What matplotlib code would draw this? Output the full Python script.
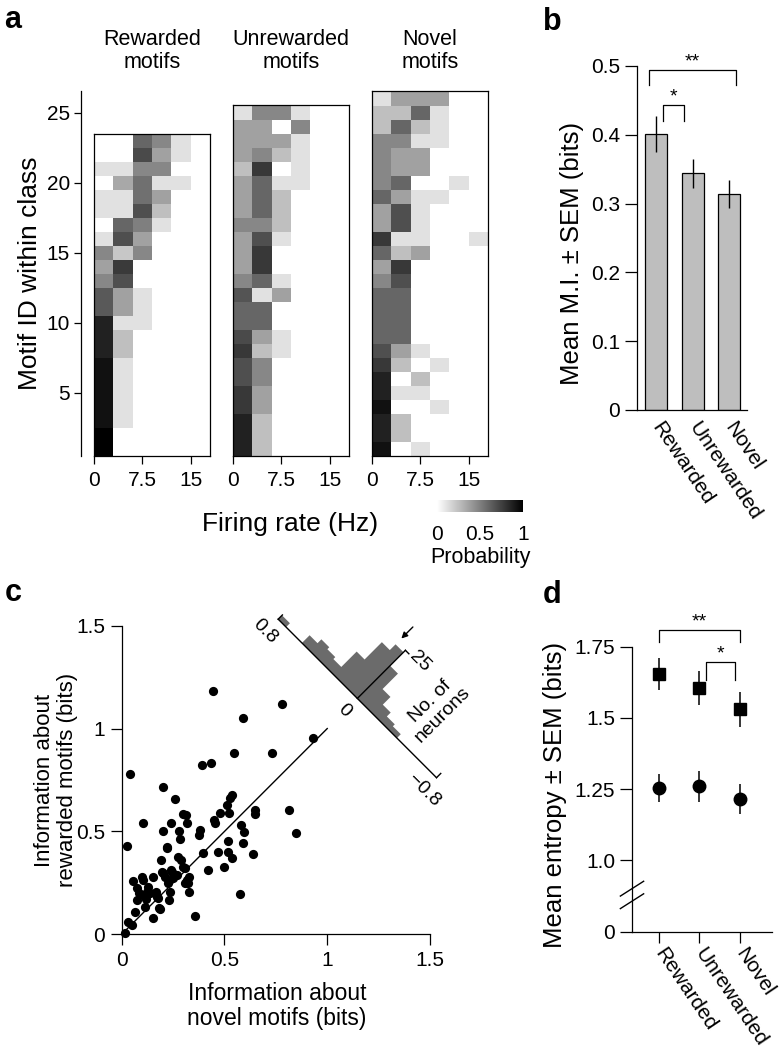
import numpy as np
import matplotlib
matplotlib.use("Agg")
import matplotlib.pyplot as plt
from matplotlib.transforms import Affine2D
from matplotlib.colors import Normalize
from matplotlib.cm import ScalarMappable

plt.rcParams["font.family"] = ["Liberation Sans", "DejaVu Sans"]
plt.rcParams["axes.linewidth"] = 0.9
plt.rcParams["xtick.major.width"] = 0.9
plt.rcParams["ytick.major.width"] = 0.9

# ---------------- data ----------------
rate_edges = [0, 3, 6, 9, 12, 15, 18]
rate_ticks = [0, 7.5, 15]
rate_ticklabels = ["0", "7.5", "15"]
motif_ticks = [5, 10, 15, 20, 25]

# probability rows, listed from the highest motif ID (top) down to motif 1
rewarded_prob = [
    [0.00, 0.00, 0.60, 0.47, 0.12, 0.00],
    [0.00, 0.00, 0.71, 0.37, 0.12, 0.00],
    [0.12, 0.12, 0.47, 0.47, 0.00, 0.00],
    [0.00, 0.34, 0.56, 0.12, 0.12, 0.00],
    [0.12, 0.12, 0.56, 0.37, 0.00, 0.00],
    [0.12, 0.12, 0.69, 0.25, 0.00, 0.00],
    [0.00, 0.60, 0.50, 0.12, 0.00, 0.00],
    [0.12, 0.69, 0.37, 0.00, 0.00, 0.00],
    [0.47, 0.22, 0.47, 0.00, 0.00, 0.00],
    [0.37, 0.77, 0.00, 0.00, 0.00, 0.00],
    [0.47, 0.69, 0.00, 0.00, 0.00, 0.00],
    [0.65, 0.37, 0.12, 0.00, 0.00, 0.00],
    [0.65, 0.37, 0.12, 0.00, 0.00, 0.00],
    [0.87, 0.12, 0.12, 0.00, 0.00, 0.00],
    [0.87, 0.25, 0.00, 0.00, 0.00, 0.00],
    [0.87, 0.25, 0.00, 0.00, 0.00, 0.00],
    [0.93, 0.12, 0.00, 0.00, 0.00, 0.00],
    [0.93, 0.12, 0.00, 0.00, 0.00, 0.00],
    [0.93, 0.12, 0.00, 0.00, 0.00, 0.00],
    [0.93, 0.12, 0.00, 0.00, 0.00, 0.00],
    [0.93, 0.12, 0.00, 0.00, 0.00, 0.00],
    [1.00, 0.00, 0.00, 0.00, 0.00, 0.00],
    [1.00, 0.00, 0.00, 0.00, 0.00, 0.00],
]
unrewarded_prob = [
    [0.12, 0.47, 0.47, 0.12, 0.00, 0.00],
    [0.37, 0.37, 0.00, 0.47, 0.00, 0.00],
    [0.37, 0.37, 0.37, 0.12, 0.00, 0.00],
    [0.37, 0.47, 0.25, 0.12, 0.00, 0.00],
    [0.25, 0.78, 0.00, 0.12, 0.00, 0.00],
    [0.37, 0.60, 0.12, 0.12, 0.00, 0.00],
    [0.37, 0.60, 0.25, 0.00, 0.00, 0.00],
    [0.37, 0.60, 0.25, 0.00, 0.00, 0.00],
    [0.47, 0.47, 0.25, 0.00, 0.00, 0.00],
    [0.37, 0.69, 0.12, 0.00, 0.00, 0.00],
    [0.37, 0.78, 0.00, 0.00, 0.00, 0.00],
    [0.37, 0.78, 0.00, 0.00, 0.00, 0.00],
    [0.47, 0.60, 0.12, 0.00, 0.00, 0.00],
    [0.67, 0.12, 0.37, 0.00, 0.00, 0.00],
    [0.60, 0.60, 0.00, 0.00, 0.00, 0.00],
    [0.60, 0.60, 0.00, 0.00, 0.00, 0.00],
    [0.71, 0.37, 0.12, 0.00, 0.00, 0.00],
    [0.78, 0.25, 0.12, 0.00, 0.00, 0.00],
    [0.69, 0.47, 0.00, 0.00, 0.00, 0.00],
    [0.69, 0.47, 0.00, 0.00, 0.00, 0.00],
    [0.78, 0.37, 0.00, 0.00, 0.00, 0.00],
    [0.78, 0.37, 0.00, 0.00, 0.00, 0.00],
    [0.87, 0.25, 0.00, 0.00, 0.00, 0.00],
    [0.87, 0.25, 0.00, 0.00, 0.00, 0.00],
    [0.87, 0.25, 0.00, 0.00, 0.00, 0.00],
]
novel_prob = [
    [0.12, 0.37, 0.37, 0.37, 0.00, 0.00],
    [0.25, 0.25, 0.60, 0.12, 0.00, 0.00],
    [0.25, 0.60, 0.25, 0.12, 0.00, 0.00],
    [0.47, 0.47, 0.12, 0.12, 0.00, 0.00],
    [0.47, 0.37, 0.37, 0.00, 0.00, 0.00],
    [0.47, 0.37, 0.37, 0.00, 0.00, 0.00],
    [0.47, 0.60, 0.00, 0.00, 0.12, 0.00],
    [0.60, 0.37, 0.12, 0.12, 0.00, 0.00],
    [0.37, 0.69, 0.12, 0.00, 0.00, 0.00],
    [0.37, 0.69, 0.12, 0.00, 0.00, 0.00],
    [0.78, 0.12, 0.12, 0.00, 0.00, 0.12],
    [0.60, 0.25, 0.37, 0.00, 0.00, 0.00],
    [0.37, 0.78, 0.00, 0.00, 0.00, 0.00],
    [0.47, 0.69, 0.00, 0.00, 0.00, 0.00],
    [0.60, 0.60, 0.00, 0.00, 0.00, 0.00],
    [0.60, 0.60, 0.00, 0.00, 0.00, 0.00],
    [0.60, 0.60, 0.00, 0.00, 0.00, 0.00],
    [0.60, 0.60, 0.00, 0.00, 0.00, 0.00],
    [0.69, 0.37, 0.12, 0.00, 0.00, 0.00],
    [0.78, 0.25, 0.00, 0.12, 0.00, 0.00],
    [0.87, 0.00, 0.25, 0.00, 0.00, 0.00],
    [0.87, 0.12, 0.12, 0.00, 0.00, 0.00],
    [0.93, 0.00, 0.00, 0.12, 0.00, 0.00],
    [0.87, 0.25, 0.00, 0.00, 0.00, 0.00],
    [0.87, 0.25, 0.00, 0.00, 0.00, 0.00],
    [0.93, 0.00, 0.12, 0.00, 0.00, 0.00],
]
heatmap_titles = ["Rewarded\nmotifs", "Unrewarded\nmotifs", "Novel\nmotifs"]

class_names = ["Rewarded", "Unrewarded", "Novel"]
mi_mean = [0.401, 0.344, 0.314]
mi_sem = [0.026, 0.021, 0.021]

novel_info = [
    0.016, 0.040, 0.027, 0.032, 0.049, 0.065, 0.053, 0.097, 0.076, 0.073,
    0.102, 0.086, 0.105, 0.122, 0.130, 0.113, 0.118, 0.154, 0.151, 0.167,
    0.170, 0.183, 0.190, 0.195, 0.203, 0.203, 0.211, 0.219, 0.227, 0.232,
    0.238, 0.240, 0.235, 0.251, 0.259, 0.268, 0.276, 0.280, 0.284, 0.287,
    0.297, 0.313, 0.308, 0.316, 0.319, 0.329, 0.328, 0.357, 0.381, 0.378,
    0.397, 0.421, 0.389, 0.433,
    0.446, 0.449, 0.454, 0.470, 0.478, 0.498, 0.511, 0.516, 0.519, 0.524,
    0.527, 0.535, 0.535, 0.546, 0.576, 0.579, 0.592, 0.592, 0.595, 0.637,
    0.649, 0.649, 0.730, 0.778, 0.816, 0.848, 0.932,
    0.105, 0.138, 0.186, 0.200, 0.222, 0.300, 0.308, 0.324, 0.243, 0.178,
]
rewarded_info = [
    0.005, 0.780, 0.429, 0.061, 0.045, 0.110, 0.260, 0.277, 0.224, 0.167,
    0.540, 0.199, 0.191, 0.207, 0.231, 0.134, 0.170, 0.277, 0.078, 0.207,
    0.183, 0.126, 0.361, 0.304, 0.718, 0.504, 0.280, 0.418, 0.248, 0.167,
    0.313, 0.540, 0.207, 0.272, 0.656, 0.288, 0.377, 0.504, 0.462, 0.361,
    0.585, 0.580, 0.321, 0.540, 0.264, 0.277, 0.207, 0.089, 0.507, 0.483,
    0.394, 0.313, 0.823, 0.834,
    1.183, 0.556, 0.539, 0.402, 0.588, 0.326, 0.629, 0.454, 0.402, 0.591,
    0.661, 0.373, 0.677, 0.880, 0.196, 0.531, 0.442, 1.050, 0.499, 0.390,
    0.604, 0.583, 0.880, 1.118, 0.604, 0.491, 0.953,
    0.264, 0.200, 0.123, 0.296, 0.423, 0.329, 0.248, 0.250, 0.305, 0.175,
]
diff_edges = [-0.40, -0.32, -0.24, -0.16, -0.08, 0.00, 0.08, 0.16, 0.24,
              0.32, 0.40, 0.48, 0.56, 0.64, 0.72, 0.80]
diff_counts = [2, 3, 5, 9, 17, 24, 21, 12, 4, 5, 6, 4, 0, 0, 2]
diff_mean = 0.08

entropy_sq = [1.654, 1.605, 1.531]
entropy_sq_sem = [0.055, 0.060, 0.061]
entropy_circ = [1.254, 1.260, 1.216]
entropy_circ_sem = [0.049, 0.055, 0.054]

# ---------------- figure ----------------
W, H = 780.0, 1050.0
fig = plt.figure(figsize=(7.8, 10.5), dpi=100)


def add_px_axes(x0, y0, x1, y1):
    return fig.add_axes([x0 / W, 1 - y1 / H, (x1 - x0) / W, (y1 - y0) / H])


def ftext(x, y, s, **kw):
    return fig.text(x / W, 1 - y / H, s, **kw)


TICK = 15
LAB = 18.5

# panel letters
for letter, (x, y) in zip("abcd", [(13, 20), (552, 22), (13, 593), (552, 595)]):
    ftext(x, y, letter, fontsize=22, fontweight="bold", ha="center", va="center")

# ---------------- panel a ----------------
row_px = 14.02
base_y = 456
hm_lefts = [94, 233, 372]
hm_width = 116

ax_y = add_px_axes(81, base_y - 26 * row_px, 90, base_y)
ax_y.set_ylim(0.5, 26.5)
ax_y.set_xlim(0, 1)
for s in ["top", "right", "bottom"]:
    ax_y.spines[s].set_visible(False)
ax_y.set_xticks([])
ax_y.set_yticks(motif_ticks)
ax_y.tick_params(axis="y", length=5, labelsize=TICK, pad=3)
ax_y.patch.set_visible(False)

for data, left, title in zip([rewarded_prob, unrewarded_prob, novel_prob],
                             hm_lefts, heatmap_titles):
    arr = np.array(data)[::-1]
    n = arr.shape[0]
    ax = add_px_axes(left, base_y - n * row_px, left + hm_width, base_y)
    ax.pcolormesh(rate_edges, np.arange(n + 1) + 0.5, arr, cmap="gray_r",
                  vmin=0, vmax=1)
    ax.set_xlim(rate_edges[0], rate_edges[-1])
    ax.set_ylim(0.5, n + 0.5)
    ax.set_yticks([])
    ax.set_xticks(rate_ticks)
    ax.set_xticklabels(rate_ticklabels)
    ax.tick_params(axis="x", length=6, labelsize=TICK, pad=5)
    ftext(left + hm_width / 2, 51, title, ha="center", va="center",
          fontsize=15.5, linespacing=1.15)

ftext(30, 273, "Motif ID within class", rotation=90, ha="center",
      va="center", fontsize=19)
ftext(290, 524, "Firing rate (Hz)", ha="center", va="center", fontsize=19)

cax = add_px_axes(437, 500, 523, 512)
cb = fig.colorbar(ScalarMappable(norm=Normalize(0, 1), cmap="gray_r"),
                  cax=cax, orientation="horizontal")
cb.outline.set_visible(False)
cb.set_ticks([0, 0.5, 1])
cb.set_ticklabels(["0", "0.5", "1"])
cax.tick_params(length=0, labelsize=15, pad=9)
ftext(480, 557, "Probability", ha="center", va="center", fontsize=15.5)

# ---------------- panel b ----------------
ax_b = add_px_axes(637, 66, 747, 410)
xb = np.arange(len(class_names))
ax_b.bar(xb, mi_mean, width=0.6, color="#bebebe", edgecolor="black",
         linewidth=0.9, zorder=2)
ax_b.errorbar(xb, mi_mean, yerr=mi_sem, fmt="none", ecolor="black",
              elinewidth=1.0, capsize=0, zorder=3)
ax_b.set_xlim(-0.52, 2.49)
ax_b.set_ylim(0, 0.5)
ax_b.set_yticks([0, 0.1, 0.2, 0.3, 0.4, 0.5])
ax_b.set_yticklabels(["0", "0.1", "0.2", "0.3", "0.4", "0.5"])
ax_b.spines["top"].set_visible(False)
ax_b.spines["right"].set_visible(False)
ax_b.tick_params(axis="y", length=9, labelsize=TICK, pad=3)
ax_b.set_xticks(xb)
ax_b.set_xticklabels(class_names, rotation=-56, ha="left", va="center",
                     rotation_mode="anchor")
ax_b.tick_params(axis="x", length=0, labelsize=TICK, pad=10)
ax_b.plot([-0.2, -0.2, 2.2, 2.2], [0.472, 0.494, 0.494, 0.472], color="k",
          lw=0.9, clip_on=False)
ax_b.text(1.0, 0.494, "**", ha="center", va="bottom", fontsize=14)
ax_b.plot([0.18, 0.18, 0.77, 0.77], [0.42, 0.443, 0.443, 0.42], color="k",
          lw=0.9, clip_on=False)
ax_b.text(0.475, 0.443, "*", ha="center", va="bottom", fontsize=14)
ftext(572, 253, "Mean M.I. ± SEM (bits)", rotation=90, ha="center",
      va="center", fontsize=LAB)

# ---------------- panel c ----------------
ax_c = add_px_axes(121.7, 625.7, 430, 934.3)
ax_c.scatter(novel_info, rewarded_info, s=44, color="black", zorder=3,
             clip_on=False, linewidths=0)
ax_c.plot([0, 1], [0, 1], color="black", lw=1.0, zorder=2)
ax_c.set_xlim(0, 1.5)
ax_c.set_ylim(0, 1.5)
ax_c.set_xticks([0, 0.5, 1, 1.5])
ax_c.set_xticklabels(["0", "0.5", "1", "1.5"])
ax_c.set_yticks([0, 0.5, 1, 1.5])
ax_c.set_yticklabels(["0", "0.5", "1", "1.5"])
ax_c.spines["top"].set_visible(False)
ax_c.spines["right"].set_visible(False)
ax_c.tick_params(length=8, labelsize=TICK, pad=4)
ftext(56, 780, "Information about\nrewarded motifs (bits)", rotation=90,
      ha="center", va="center", fontsize=16, linespacing=1.15)
ftext(277, 1006, "Information about\nnovel motifs (bits)", ha="center",
      va="center", fontsize=16.5, linespacing=1.15)

# rotated histogram of (rewarded - novel) along the anti-diagonal
cval = 1.1465
s_d = 140.0 / 205.6      # data units per bit along the anti-diagonal
s_c = 2.72 / 205.6       # data units per neuron along the diagonal
a = 1 / np.sqrt(2)
T = Affine2D(np.array([[-a * s_d, a * s_c, cval],
                       [a * s_d, a * s_c, cval],
                       [0, 0, 1]])) + ax_c.transData
ax_c.stairs(diff_counts, diff_edges, fill=True, color="#6b6b6b",
            transform=T, clip_on=False, zorder=2)
ax_c.plot([-0.8, 0.8], [0, 0], color="k", lw=1.0, transform=T, clip_on=False)
ax_c.plot([0, 0], [0, 25], color="k", lw=1.0, transform=T, clip_on=False)
for dend in (-0.8, 0.8):
    ax_c.plot([dend, dend], [0, 2.2], color="k", lw=1.0, transform=T,
              clip_on=False)
ax_c.plot([0, -0.035], [25, 25], color="k", lw=1.0, transform=T,
          clip_on=False)
ax_c.annotate("", xy=(diff_mean, 27), xytext=(diff_mean, 33), xycoords=T,
              textcoords=T,
              arrowprops=dict(arrowstyle="-|>", color="k", lw=1.0,
                              mutation_scale=9, shrinkA=0, shrinkB=0))
for d, h, s in [(0.8, -6.6, "0.8"), (0.0, -6.6, "0"), (-0.8, -6.6, "\u22120.8"),
                (-0.13, 25.8, "25")]:
    ax_c.text(d, h, s, transform=T, rotation=-45, ha="center", va="center",
              rotation_mode="anchor", fontsize=14, clip_on=False)
ax_c.text(-0.45, 18.0, "No. of\nneurons", transform=T, rotation=45,
          ha="center", va="center", rotation_mode="anchor", fontsize=14,
          linespacing=1.1, clip_on=False)

# ---------------- panel d ----------------
ax_d = add_px_axes(632, 646.7, 772, 931.7)
xd = np.arange(len(class_names))
ax_d.errorbar(xd, entropy_sq, yerr=entropy_sq_sem, fmt="s", ms=8,
              color="black", elinewidth=1.1, capsize=0, clip_on=False)
ax_d.errorbar(xd, entropy_circ, yerr=entropy_circ_sem, fmt="o", ms=9,
              color="black", elinewidth=1.1, capsize=0, clip_on=False)
ax_d.set_xlim(-0.68, 2.81)
ax_d.set_ylim(0.75, 1.75)
ax_d.set_yticks([0.75, 1.0, 1.25, 1.5, 1.75])
ax_d.set_yticklabels(["0", "1.0", "1.25", "1.5", "1.75"])
ax_d.spines["top"].set_visible(False)
ax_d.spines["right"].set_visible(False)
ax_d.tick_params(axis="y", length=9, labelsize=TICK, pad=3)
ax_d.set_xticks(xd)
ax_d.set_xticklabels(class_names, rotation=-56, ha="left", va="center",
                     rotation_mode="anchor")
ax_d.tick_params(axis="x", length=8, labelsize=TICK, pad=5)
# axis break marks
for yb in (0.901, 0.857):
    ax_d.plot([-0.68 - 0.29, -0.68 + 0.29], [yb - 0.026, yb + 0.026],
              color="k", lw=1.0, clip_on=False)
ax_d.plot([0, 0, 2, 2], [1.767, 1.808, 1.808, 1.767], color="k", lw=0.9,
          clip_on=False)
ax_d.text(1.0, 1.808, "**", ha="center", va="bottom", fontsize=14)
ax_d.plot([1.16, 1.16, 1.89, 1.89], [1.634, 1.695, 1.695, 1.634], color="k",
          lw=0.9, clip_on=False)
ax_d.text(1.525, 1.695, "*", ha="center", va="bottom", fontsize=14)
ftext(555, 795, "Mean entropy ± SEM (bits)", rotation=90, ha="center",
      va="center", fontsize=LAB)

fig.savefig("out.png", dpi=100)
